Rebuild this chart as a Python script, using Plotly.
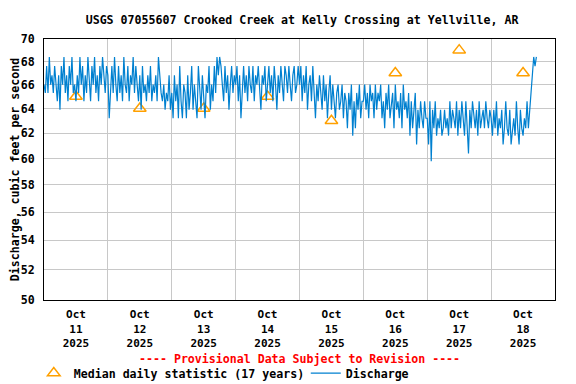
import math
import pandas as pd
import plotly.graph_objects as go

TITLE = "USGS 07055607 Crooked Creek at Kelly Crossing at Yellville, AR"
Y_TITLE = "Discharge, cubic feet per second"
NOTE = "---- Provisional Data Subject to Revision ----"

# Discharge, 30-minute readings starting 2025-10-11 00:00 (cfs)
d11 = [66.0, 65.3, 67.6, 65.3, 68.4, 66.0, 66.8, 65.3, 67.6, 66.0, 64.6, 66.8, 63.9, 67.6, 66.0, 68.4,
       65.3, 66.8, 64.6, 67.6, 66.0, 68.4, 65.3, 66.0, 64.6, 66.8, 65.3, 68.4, 66.0, 67.6, 64.6, 66.8,
       65.3, 68.4, 66.0, 64.6, 67.6, 66.0, 68.4, 65.3, 66.8, 64.6, 67.6, 66.0, 68.4, 66.8, 65.3, 67.6]
d12 = [66.8, 63.2, 66.0, 67.6, 65.3, 68.4, 66.0, 64.6, 67.6, 65.3, 66.8, 64.6, 68.4, 66.0, 65.3, 67.6,
       64.6, 66.8, 66.0, 68.4, 65.3, 67.6, 66.0, 64.6, 66.8, 63.9, 67.6, 65.3, 66.0, 64.6, 66.8, 65.3,
       67.6, 64.6, 66.0, 65.3, 66.8, 64.6, 68.4, 66.8, 65.3, 64.6, 66.0, 63.9, 65.3, 64.6, 66.8, 63.9]
d13 = [65.3, 63.2, 66.8, 64.6, 66.0, 63.2, 67.6, 64.6, 63.2, 66.0, 65.3, 63.2, 66.8, 63.9, 65.3, 67.6,
       63.9, 66.0, 64.6, 63.2, 67.6, 65.3, 63.9, 66.8, 64.6, 63.2, 66.0, 65.3, 67.6, 63.9, 66.0, 64.6,
       67.6, 65.3, 68.4, 66.8, 68.4, 67.6, 66.0, 64.6, 67.6, 65.3, 66.8, 63.9, 66.0, 67.6, 65.3, 66.8]
d14 = [66.0, 67.6, 64.6, 66.8, 63.2, 66.0, 67.6, 65.3, 66.8, 64.6, 67.6, 66.0, 65.3, 67.6, 64.6, 66.8,
       66.0, 67.6, 65.3, 63.9, 66.8, 66.0, 67.6, 64.6, 66.0, 67.6, 65.3, 66.8, 64.6, 67.6, 66.0, 63.9,
       66.8, 65.3, 67.6, 66.0, 64.6, 67.6, 66.8, 65.3, 67.6, 66.0, 64.6, 66.8, 67.6, 65.3, 66.0, 67.6]
d15 = [66.0, 67.6, 64.6, 66.8, 65.3, 67.6, 63.9, 66.0, 66.8, 64.6, 67.6, 65.3, 63.2, 66.0, 64.6, 66.8,
       65.3, 63.9, 66.8, 64.6, 66.0, 63.2, 65.3, 66.8, 63.9, 66.0, 64.6, 63.2, 65.3, 66.0, 63.9, 64.6,
       66.0, 63.2, 65.3, 64.6, 62.4, 65.3, 63.9, 66.0, 61.8, 64.6, 62.4, 65.3, 63.9, 66.0, 63.2, 64.6]
d16 = [64.6, 66.0, 63.9, 65.3, 63.2, 66.0, 64.6, 65.3, 63.2, 66.0, 63.9, 65.3, 64.6, 66.0, 63.2, 64.6,
       62.4, 65.3, 63.9, 66.0, 63.2, 64.6, 65.3, 62.4, 66.0, 63.9, 64.6, 63.2, 65.3, 62.4, 66.0, 63.9,
       64.6, 63.2, 65.3, 61.8, 64.6, 62.4, 63.9, 65.3, 61.1, 63.9, 62.4, 64.6, 63.2, 62.4, 64.6, 63.2]
d17 = [63.2, 61.1, 64.6, 59.8, 63.9, 62.4, 64.6, 61.8, 63.2, 62.4, 63.9, 61.8, 62.4, 63.9, 62.4, 63.2,
       61.8, 64.6, 62.4, 63.9, 63.2, 62.4, 64.6, 61.8, 63.9, 62.4, 64.6, 63.2, 61.8, 64.6, 62.4, 60.4,
       63.9, 62.4, 64.6, 63.2, 62.4, 63.9, 61.8, 64.6, 62.4, 63.2, 63.9, 62.4, 64.6, 63.2, 62.4, 63.9]
d18 = [63.2, 61.8, 63.9, 62.4, 64.6, 61.8, 63.2, 62.4, 63.9, 61.1, 62.4, 64.6, 62.4, 61.8, 63.9, 61.1,
       62.4, 63.2, 61.8, 64.6, 62.4, 61.1, 63.9, 62.4, 61.8, 63.2, 62.4, 64.6, 62.4, 63.9, 66.0, 67.6,
       68.4, 67.6, 68.4]

discharge = d11 + d12 + d13 + d14 + d15 + d16 + d17 + d18
times = pd.date_range("2025-10-11 00:00", periods=len(discharge), freq="30min")

# Median daily statistic (17 years), plotted at noon of each day
median_days = ["2025-10-11", "2025-10-12", "2025-10-13", "2025-10-14",
               "2025-10-15", "2025-10-16", "2025-10-17", "2025-10-18"]
median_vals = [65, 64, 64, 65, 63, 67, 69, 67]
median_x = [pd.Timestamp(d) + pd.Timedelta(hours=12) for d in median_days]

x_ticktext = ["Oct<br>%d<br>2025" % pd.Timestamp(d).day for d in median_days]
y_ticks = [50, 52, 54, 56, 58, 60, 62, 64, 66, 68, 70]

FONT = "DejaVu Sans Mono"
BLUE = "#0080D0"
ORANGE = "#FFA000"
GRID = "#C8C8C8"
TXT = dict(family=FONT, size=11.6, color="black", weight="bold")

# the page body adds an 8px offset, so the figure is 8px smaller than the window
W, H = 568, 376

fig = go.Figure()
fig.add_trace(go.Scatter(
    x=median_x, y=median_vals, mode="markers",
    name="Median daily statistic (17 years)",
    marker=dict(symbol="triangle-up-open", size=11, color=ORANGE, line=dict(width=1.5, color=ORANGE)),
))
fig.add_trace(go.Scatter(
    x=times, y=discharge, mode="lines", name="Discharge",
    line=dict(color=BLUE, width=1.2),
))

fig.update_layout(
    width=W, height=H,
    margin=dict(l=36, r=21, t=31, b=84, autoexpand=False),
    paper_bgcolor="white", plot_bgcolor="white",
    font=TXT,
    title=dict(text=TITLE, x=0.505, xanchor="center", xref="paper",
               y=1 - 12 / H, yref="container", yanchor="middle", font=TXT, automargin=False),
    showlegend=True,
    legend=dict(orientation="h", x=-0.02, xanchor="left", y=-0.28, yanchor="middle",
                font=TXT, bgcolor="rgba(0,0,0,0)", itemwidth=30, tracegroupgap=0,
                entrywidth=227, entrywidthmode="pixels"),
    annotations=[dict(text=NOTE, xref="paper", yref="paper", x=0.5, y=-0.225,
                      xanchor="center", yanchor="middle", showarrow=False,
                      font=dict(family=FONT, size=11.6, color="red", weight="bold"))],
)

fig.update_xaxes(
    type="date", automargin=False,
    range=[pd.Timestamp("2025-10-11 00:00"), pd.Timestamp("2025-10-19 00:00")],
    tickmode="array", tickvals=median_x, ticktext=x_ticktext,
    ticks="outside", ticklen=4, tickcolor="rgba(0,0,0,0)",
    showgrid=False,
    minor=dict(tick0="2025-10-11", dtick=86400000, showgrid=True, gridcolor=GRID, gridwidth=1, ticks=""),
    showline=True, linecolor="black", linewidth=1, mirror=True, zeroline=False,
    tickfont=dict(family=FONT, size=11, color="black", weight="bold"),
)
fig.update_yaxes(
    type="log", automargin=False, range=[math.log10(50), math.log10(70)],
    tickmode="array", tickvals=y_ticks, ticktext=[str(v) for v in y_ticks],
    showgrid=True, gridcolor=GRID, gridwidth=1,
    showline=True, linecolor="black", linewidth=1, mirror=True, zeroline=False,
    ticks="", ticklabelstandoff=6,
    title=dict(text=Y_TITLE, standoff=4, font=TXT),
    tickfont=TXT,
)

fig.write_html("out.html")
